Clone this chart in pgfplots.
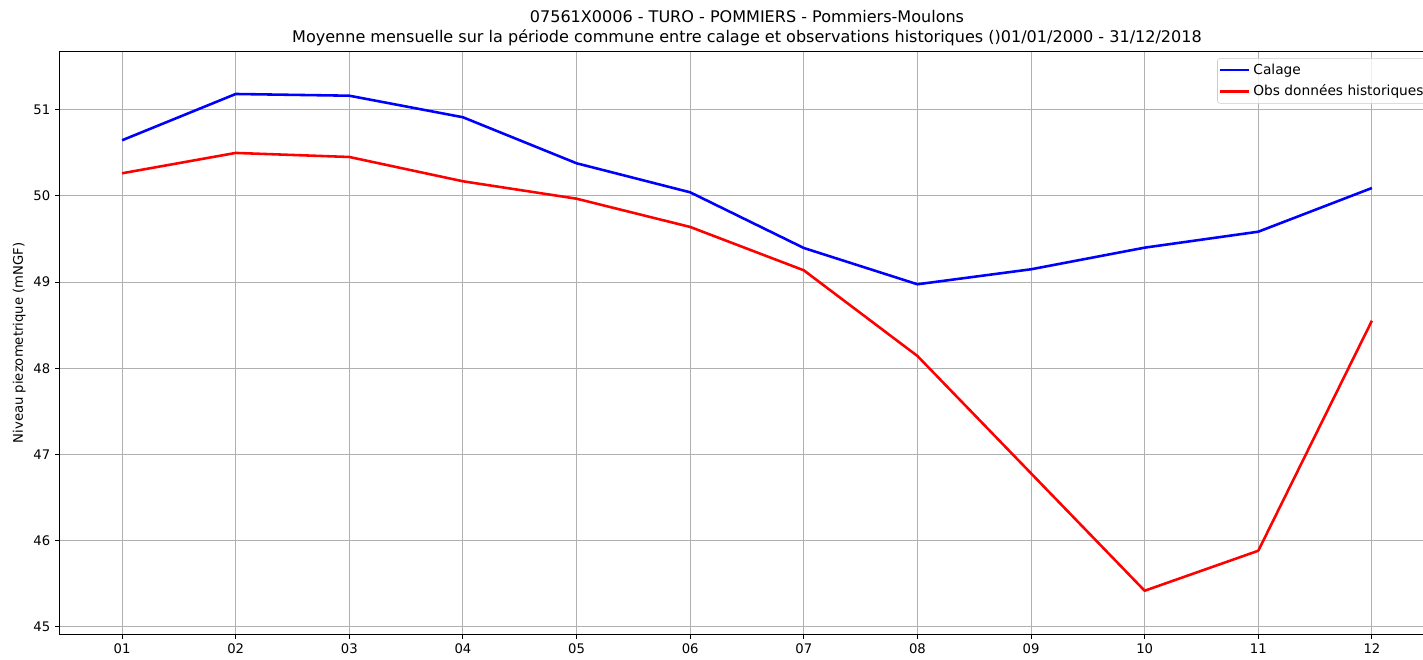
\documentclass[border=0pt]{standalone}
\usepackage{fontspec}
\setmainfont{DejaVu Sans}
\usepackage{pgfplots}
\pgfplotsset{compat=1.18}
\begin{document}
\begin{tikzpicture}
\begin{axis}[
  name=ax,
  at={(0,0)}, anchor=south west,
  scale only axis, width=989.8pt, height=419.5pt,
  xmin=0.45, xmax=12.55, ymin=44.912, ymax=51.673,
  xtick={1,2,3,4,5,6,7,8,9,10,11,12},
  xticklabels={01,02,03,04,05,06,07,08,09,10,11,12},
  ytick={45,46,47,48,49,50,51},
  grid=major,
  grid style={color=black!31, line width=0.75pt},
  axis line style={line width=0.75pt},
  tick align=outside, major tick length=3.2pt,
  tick style={black, line width=0.75pt},
  xtick pos=lower, ytick pos=left,
  ticklabel style={font=\fontsize{9.5}{11}\selectfont},
  /pgf/number format/assume math mode=true,
  legend style={at={(1,1)}, anchor=north east, xshift=-4.6pt, yshift=-4.6pt,
    draw=black!20, rounded corners=2pt, fill=white, fill opacity=0.8, text opacity=1,
    font=\fontsize{9.9}{11}\selectfont, inner xsep=1pt, inner ysep=2pt, row sep=2pt,
    cells={anchor=west}},
  legend image code/.code={\draw[#1, line width=1.85pt] (0pt,0pt) -- (21pt,0pt);},
]
\addplot[color=blue, line width=1.85pt, line join=round] coordinates {
 (1,50.645) (2,51.182) (3,51.162) (4,50.912) (5,50.378) (6,50.041)
 (7,49.395) (8,48.974) (9,49.148) (10,49.399) (11,49.584) (12,50.091)};
\addlegendentry{Calage}
\addplot[color=red, line width=1.85pt, line join=round] coordinates {
 (1,50.262) (2,50.498) (3,50.451) (4,50.169) (5,49.967) (6,49.639)
 (7,49.136) (8,48.142) (9,46.78) (10,45.418) (11,45.882) (12,48.551)};
\addlegendentry{Obs données historiques}
\end{axis}
\path (ax.north) ++(0,21.2pt) node[anchor=base, font=\fontsize{11.55}{13}\selectfont, inner sep=0pt]
  {07561X0006 - TURO - POMMIERS - Pommiers-Moulons};
\path (ax.north) ++(0,6.4pt) node[anchor=base, font=\fontsize{11.55}{13}\selectfont, inner sep=0pt]
  {Moyenne mensuelle sur la période commune entre calage et observations historiques ()01/01/2000 - 31/12/2018};
\path (ax.west) ++(-29.0pt,0) node[rotate=90, anchor=center, font=\fontsize{9.5}{11}\selectfont, inner sep=0pt]
  {Niveau piezometrique (mNGF)};
\pgfresetboundingbox
\useasboundingbox (-42.9pt,-17.8pt) rectangle (981.6pt,456.7pt);
\end{tikzpicture}
\end{document}
